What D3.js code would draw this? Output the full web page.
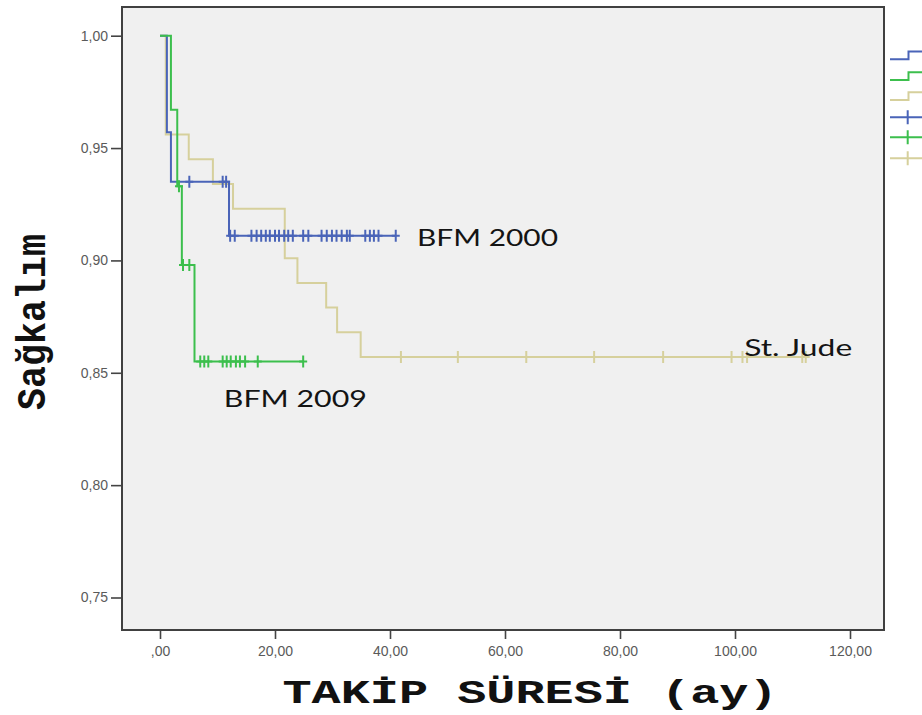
<!DOCTYPE html>
<html>
<head>
<meta charset="utf-8">
<script src="https://cdn.jsdelivr.net/npm/d3@7/dist/d3.min.js"></script>
<style>
  html, body { margin: 0; padding: 0; background: #ffffff; }
  svg { display: block; }
</style>
</head>
<body>
<svg id="chart" width="922" height="715"></svg>
<script>
// Kaplan–Meier survival curves for three treatment protocols
const groups = ["BFM 2000", "BFM 2009", "St. Jude"];
const groupColors = ["#4a64b8", "#3cbf4d", "#d6d09c"];

// BFM 2000
const bfm2000EventTimes = [1.2, 1.9, 12.0];
const bfm2000Survival   = [0.957, 0.935, 0.911];
const bfm2000Censored   = [5.1, 10.9, 11.5, 12.2, 13.0, 15.9, 16.8, 17.6, 18.4, 19.1, 20.0,
                           20.7, 21.6, 22.3, 23.1, 24.9, 25.8, 28.1, 29.0, 29.9, 30.7, 31.6,
                           32.5, 33.0, 35.7, 36.5, 37.2, 38.0, 41.0];

// BFM 2009
const bfm2009EventTimes = [1.9, 3.0, 3.8, 6.0];
const bfm2009Survival   = [0.967, 0.933, 0.898, 0.855];
const bfm2009Censored   = [3.3, 4.0, 5.1, 7.0, 7.7, 8.4, 10.9, 11.6, 12.3, 13.2, 13.9, 14.8, 17.0, 24.9];

// St. Jude
const stJudeEventTimes = [1.0, 5.0, 9.2, 12.7, 21.7, 23.9, 28.9, 30.8, 34.9];
const stJudeSurvival   = [0.956, 0.945, 0.934, 0.923, 0.901, 0.890, 0.879, 0.868, 0.857];
const stJudeCensored   = [41.9, 51.8, 63.7, 75.5, 87.5, 99.4, 101.3, 102.1, 111.7, 112.3];

// Axis ticks
const xTickValues = [0, 20, 40, 60, 80, 100, 120];
const xTickLabels = [",00", "20,00", "40,00", "60,00", "80,00", "100,00", "120,00"];
const yTickValues = [0.75, 0.80, 0.85, 0.90, 0.95, 1.00];
const yTickLabels = ["0,75", "0,80", "0,85", "0,90", "0,95", "1,00"];

const xTitle = "TAKİP SÜRESİ (ay)";
const yTitle = "Sağkalım";

// ---- layout ----
const svg = d3.select("#chart");
const frame = { left: 122, right: 884, top: 7, bottom: 630 };

const x = d3.scaleLinear().domain([0, 120]).range([160, 850]);
const y = d3.scaleLinear().domain([0.75, 1.0]).range([597.5, 35.7]);

// plot background
svg.append("rect")
  .attr("x", frame.left).attr("y", frame.top)
  .attr("width", frame.right - frame.left).attr("height", frame.bottom - frame.top)
  .attr("fill", "#f0f0f0");

// axes
const yAxis = d3.axisLeft(y)
  .tickValues(yTickValues)
  .tickFormat((d, i) => yTickLabels[i])
  .tickSize(11).tickSizeOuter(0).tickPadding(3);
const gy = svg.append("g").attr("transform", `translate(${frame.left},0)`).call(yAxis);

const xAxis = d3.axisBottom(x)
  .tickValues(xTickValues)
  .tickFormat((d, i) => xTickLabels[i])
  .tickSize(9).tickSizeOuter(0).tickPadding(7);
const gx = svg.append("g").attr("transform", `translate(0,${frame.bottom})`).call(xAxis);

[gx, gy].forEach(g => {
  g.select(".domain").remove();
  g.selectAll(".tick line").attr("stroke", "#444").attr("stroke-width", 1.6);
  g.selectAll(".tick text")
    .attr("fill", "#5a5a5a")
    .style("font-family", "'Liberation Sans', Arial, sans-serif")
    .style("font-size", "14px");
});

// curves
const series = [
  { name: groups[2], color: groupColors[2], times: stJudeEventTimes, surv: stJudeSurvival, cens: stJudeCensored },
  { name: groups[0], color: groupColors[0], times: bfm2000EventTimes, surv: bfm2000Survival, cens: bfm2000Censored },
  { name: groups[1], color: groupColors[1], times: bfm2009EventTimes, surv: bfm2009Survival, cens: bfm2009Censored }
];

const survivalAt = (s, t) => {
  let v = 1;
  s.times.forEach((tt, i) => { if (tt <= t) v = s.surv[i]; });
  return v;
};

const line = d3.line().x(d => x(d[0])).y(d => y(d[1])).curve(d3.curveStepAfter);
const plot = svg.append("g");

series.forEach(s => {
  const end = Math.max(d3.max(s.cens), d3.max(s.times));
  const pts = [[0, 1]].concat(s.times.map((t, i) => [t, s.surv[i]]));
  pts.push([end, s.surv[s.surv.length - 1]]);
  const g = plot.append("g");
  g.append("path")
    .attr("d", line(pts))
    .attr("fill", "none")
    .attr("stroke", s.color)
    .attr("stroke-width", 2);
  g.selectAll("path.cens")
    .data(s.cens)
    .join("path")
    .attr("class", "cens")
    .attr("d", t => {
      const cx = x(t), cy = y(survivalAt(s, t));
      return `M${cx},${cy - 6}V${cy + 6}M${cx - 4},${cy}H${cx + 4}`;
    })
    .attr("stroke", s.color)
    .attr("stroke-width", 2)
    .attr("fill", "none");
});

// frame border
svg.append("rect")
  .attr("x", frame.left).attr("y", frame.top)
  .attr("width", frame.right - frame.left).attr("height", frame.bottom - frame.top)
  .attr("fill", "none").attr("stroke", "#404040").attr("stroke-width", 2);

// curve labels
const labelFont = "Lato, 'Open Sans', sans-serif";
const curveLabels = [
  { text: groups[0], t: 44.7, v: 0.911, dy: 10.5, len: 141 },
  { text: groups[2], t: 101.6, v: 0.857, dy: -1.5, len: 108 },
  { text: groups[1], t: 11.1, v: 0.855, dy: 45, len: 143 }
];
svg.selectAll("text.curve-label")
  .data(curveLabels)
  .join("text")
  .attr("class", "curve-label")
  .attr("x", d => x(d.t))
  .attr("y", d => y(d.v) + d.dy)
  .attr("textLength", d => d.len)
  .attr("lengthAdjust", "spacingAndGlyphs")
  .attr("fill", "#141414")
  .style("font-family", labelFont)
  .style("font-size", "24px")
  .text(d => d.text);

// axis titles
const monoFont = "'Liberation Mono', 'DejaVu Sans Mono', monospace";
svg.append("text")
  .attr("x", 530)
  .attr("y", 703)
  .attr("text-anchor", "middle")
  .attr("textLength", 495)
  .attr("lengthAdjust", "spacingAndGlyphs")
  .attr("fill", "#111")
  .style("font-family", monoFont)
  .style("font-weight", "bold")
  .style("font-size", "34px")
  .text(xTitle);

svg.append("text")
  .attr("transform", "translate(45,322) scale(1.25,1) rotate(-90)")
  .attr("text-anchor", "middle")
  .attr("textLength", 176)
  .attr("lengthAdjust", "spacingAndGlyphs")
  .attr("fill", "#111")
  .style("font-family", monoFont)
  .style("font-weight", "bold")
  .style("font-size", "33px")
  .text(yTitle);

// legend (runs past the right edge)
const legend = svg.append("g");
const legendY = [59.3, 80, 100, 117.3, 137.3, 158.3];
const legendStep = 7.7;
groups.forEach((gname, i) => {
  const ly = legendY[i];
  legend.append("path")
    .attr("d", `M890,${ly}H908.5V${ly - legendStep}H930`)
    .attr("fill", "none").attr("stroke", groupColors[i]).attr("stroke-width", 2);
});
groups.forEach((gname, i) => {
  const ly = legendY[i + 3];
  legend.append("path")
    .attr("d", `M890,${ly}H930M907.7,${ly - 7}V${ly + 7}`)
    .attr("fill", "none").attr("stroke", groupColors[i]).attr("stroke-width", 2);
});
</script>
</body>
</html>
